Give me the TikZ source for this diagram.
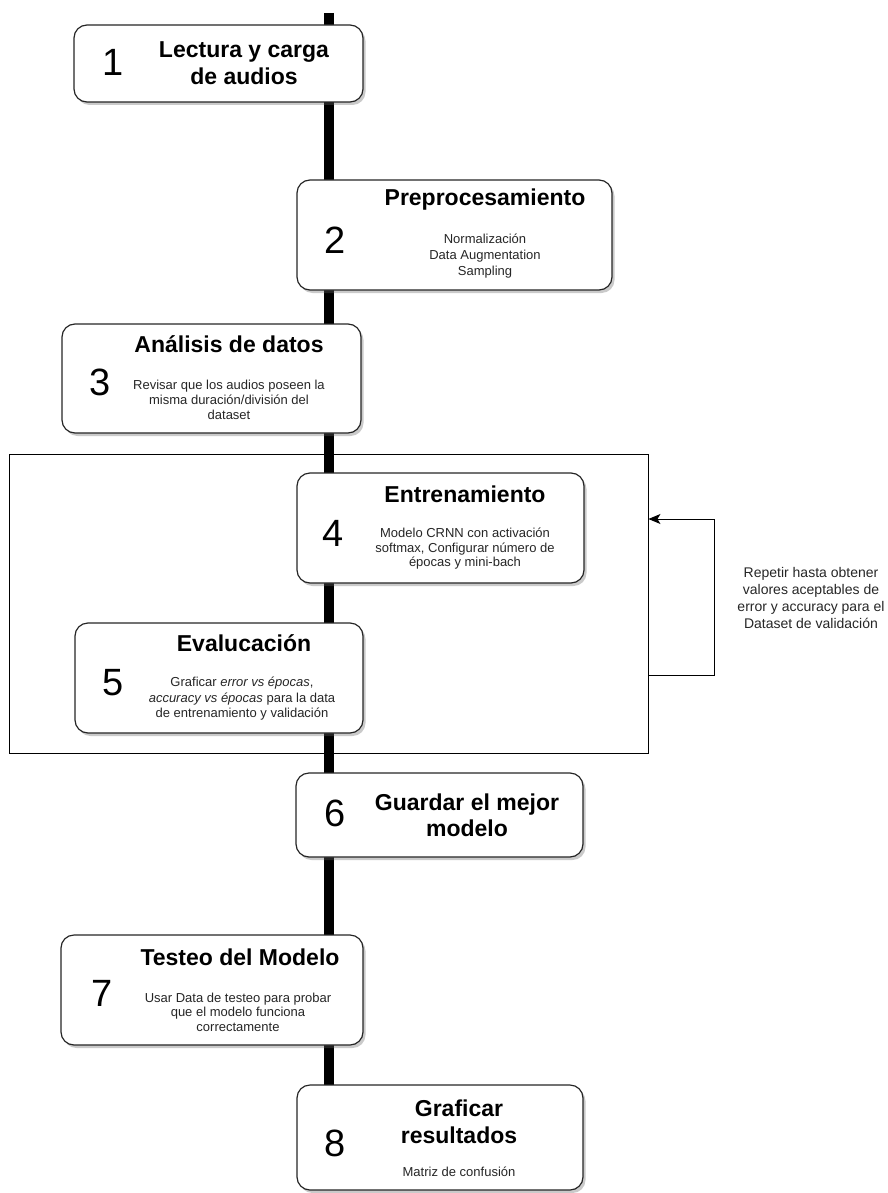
\documentclass[tikz,border=0pt]{standalone}
\usepackage{fontspec}
\setmainfont{Liberation Sans}
\usetikzlibrary{shadows,arrows.meta}
\begin{document}
\begin{tikzpicture}[x=1pt,y=-1pt,
  stepbox/.style={draw=black!85,line width=1.2pt,rounded corners=13pt,fill=white,
    drop shadow={shadow xshift=2.5pt,shadow yshift=-3pt,opacity=0.35,fill=black!60},
    inner sep=0pt},
  digit/.style={inner sep=0pt,font=\fontsize{38}{40}\selectfont},
  title/.style={inner sep=0pt,align=center,font=\fontsize{23}{27}\selectfont\bfseries},
  small/.style={inner sep=0pt,align=center,text=black!85,font=\fontsize{13}{15.5}\selectfont},
  note/.style={inner sep=0pt,align=center,text=black!85,font=\fontsize{14}{17}\selectfont}]
\useasboundingbox (0,0) rectangle (888,1193);
% loop frame
\node[draw=black,line width=0.9pt,minimum width=639pt,minimum height=299pt,inner sep=0pt] (frame) at (328.5,603.5) {};
% spine
\coordinate (top) at (329,13);
\coordinate (bot) at (329,1186);
\draw[line width=10pt] (top) -- (bot);
% feedback arrow
\coordinate (fbA) at (frame.east |- {(0,675)});
\coordinate (fbB) at (frame.east |- {(0,519)});
\coordinate (fbC) at (714,675);
\coordinate (fbD) at (714,519);
\draw[line width=0.9pt,-{Stealth[length=12pt,width=10pt,inset=3pt]}] (fbA) -- (fbC) -- (fbD) -- (fbB);
\node[note] (lbl) at (811,598) {Repetir hasta obtener\\valores aceptables de\\error y accuracy para el\\Dataset de validación};
% boxes
\node[stepbox,minimum width=289pt,minimum height=77pt] (b1) at (218.5,63.5) {};
\node[stepbox,minimum width=315pt,minimum height=110pt] (b2) at (454.5,235) {};
\node[stepbox,minimum width=299pt,minimum height=109pt] (b3) at (211.5,378.5) {};
\node[stepbox,minimum width=287pt,minimum height=110pt] (b4) at (440.5,528) {};
\node[stepbox,minimum width=288pt,minimum height=110pt] (b5) at (219,678) {};
\node[stepbox,minimum width=287pt,minimum height=84pt] (b6) at (439.5,815) {};
\node[stepbox,minimum width=302pt,minimum height=110pt] (b7) at (212,990) {};
\node[stepbox,minimum width=286pt,minimum height=105pt] (b8) at (440,1137.5) {};
% box 1
\node[digit] (d1) at (113,62) {1};
\node[title,font=\fontsize{23}{27}\selectfont\bfseries] (t1) at (244,63.5) {Lectura y carga\\de audios};
% box 2
\node[digit] (d2) at (335,240) {2};
\node[title] (t2) at (485,200) {Preprocesamiento};
\node[small,font=\fontsize{13}{16}\selectfont] (s2) at (485,256) {Normalización\\Data Augmentation\\Sampling};
% box 3
\node[digit] (d3) at (100,382) {3};
\node[title] (t3) at (229,344) {Análisis de datos};
\node[small,font=\fontsize{13}{15}\selectfont] (s3) at (229,400) {Revisar que los audios poseen la\\misma duración/división del\\dataset};
% box 4
\node[digit] (d4) at (333,533) {4};
\node[title] (t4) at (465,494) {Entrenamiento};
\node[small,font=\fontsize{13}{14.5}\selectfont] (s4) at (465,549) {Modelo CRNN con activación\\softmax, Configurar número de\\épocas y mini-bach};
% box 5
\node[digit] (d5) at (113,683) {5};
\node[title] (t5) at (244,643) {Evalucación};
\node[small] (s5) at (242,699) {Graficar \textit{error vs épocas},\\\textit{accuracy vs épocas} para la data\\de entrenamiento y validación};
% box 6
\node[digit] (d6) at (335,813) {6};
\node[title,font=\fontsize{23}{26}\selectfont\bfseries] (t6) at (467,815) {Guardar el mejor\\modelo};
% box 7
\node[digit] (d7) at (102,993) {7};
\node[title] (t7) at (240,957) {Testeo del Modelo};
\node[small,font=\fontsize{13}{14.5}\selectfont] (s7) at (238,1012) {Usar Data de testeo para probar\\que el modelo funciona\\correctamente};
% box 8
\node[digit] (d8) at (335,1143) {8};
\node[title] (t8) at (459,1121.5) {Graficar\\resultados};
\node[small] (s8) at (459,1172) {Matriz de confusión};
\end{tikzpicture}
\end{document}
